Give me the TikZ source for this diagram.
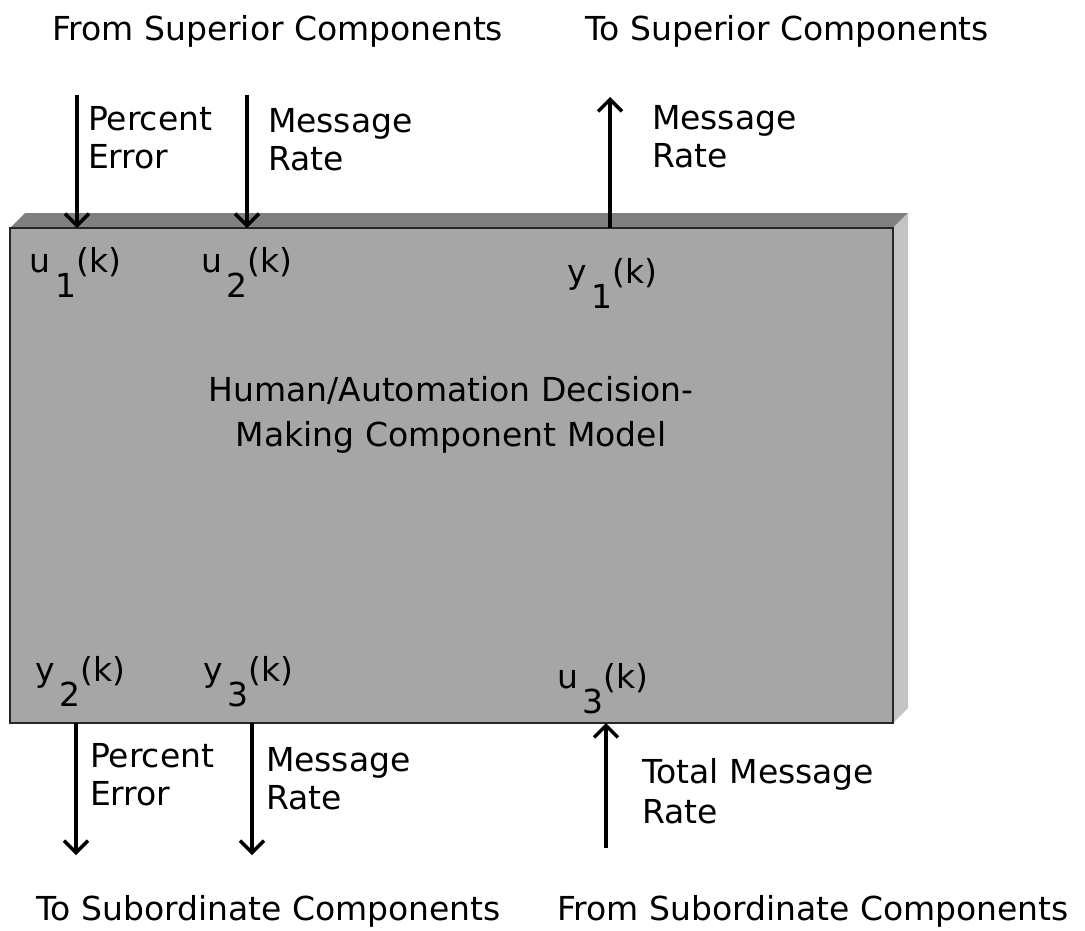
\documentclass[tikz,border=0pt]{standalone}
\usepackage{fontspec}
\setmainfont{DejaVu Sans}
\usetikzlibrary{arrows.meta,calc}
\definecolor{frontgray}{HTML}{A6A6A6}
\definecolor{topgray}{HTML}{808080}
\definecolor{sidegray}{HTML}{C4C4C4}
\newcommand{\sublbl}[2]{#1\kern5pt\raisebox{-25pt}{#2}(k)}
\begin{document}
\begin{tikzpicture}[x=1pt,y=-1pt,
  every node/.style={font=\fontsize{33}{38}\selectfont, inner sep=0pt, outer sep=0pt},
  txt/.style={anchor=base west},
  lbl/.style={anchor=north west, align=left},
  arr/.style={line width=3.5pt, -{Straight Barb[length=12pt,width=24pt,line width=3.5pt]}},
  boxstyle/.style={draw=black!85, line width=1.5pt, fill=frontgray, anchor=north west,
    minimum width=883pt, minimum height=495pt}]
\useasboundingbox (0,0) rectangle (1085,930);
% box
\node[boxstyle] (box) at (10,228) {};
\fill[topgray] (box.north west) -- ++(15,-15) -- ($(box.north east)+(15,-15)$) -- (box.north east) -- cycle;
\fill[sidegray] (box.north east) -- ++(15,-15) -- ($(box.south east)+(15,-15)$) -- (box.south east) -- cycle;
\draw[black!85, line width=1.5pt] (box.north west) rectangle (box.south east);
% headings
\node[txt] (fsup) at (52,40) {From Superior Components};
\node[txt] (tsup) at (585,40) {To Superior Components};
\node[txt] (tsub) at (36,920) {To Subordinate Components};
\node[txt] (fsub) at (557,920) {From Subordinate Components};
% center
\node[anchor=north, align=center, font=\fontsize{33}{45}\selectfont] (title) at (451,376) {Human/Automation Decision-\\Making Component Model};
% port labels
\node[txt] (u1) at (30,272) {\sublbl{u}{1}};
\node[txt] (u2) at (201,272) {\sublbl{u}{2}};
\node[txt] (y1) at (567,283) {\sublbl{y}{1}};
\node[txt] (y2) at (35,681) {\sublbl{y}{2}};
\node[txt] (y3) at (203,681) {\sublbl{y}{3}};
\node[txt] (u3) at (557,688) {\sublbl{u}{3}};
% signal labels
\node[lbl] (l1) at (88,106) {Percent\\Error};
\node[lbl] (l2) at (268,108) {Message\\Rate};
\node[lbl] (l3) at (652,105) {Message\\Rate};
\node[lbl] (l4) at (90,743) {Percent\\Error};
\node[lbl] (l5) at (266,747) {Message\\Rate};
\node[lbl, font=\fontsize{33}{40}\selectfont] (l6) at (642,758) {Total Message\\Rate};
% arrows
\coordinate (p1) at (77,95);
\coordinate (p2) at (247,95);
\coordinate (p3) at (610,97);
\coordinate (q1) at (76,855);
\coordinate (q2) at (252,855);
\coordinate (q3) at (606,848);
\draw[arr] (p1) -- (p1 |- box.north);
\draw[arr] (p2) -- (p2 |- box.north);
\draw[arr] (p3 |- box.north) -- (p3);
\draw[arr] (q1 |- box.south) -- (q1);
\draw[arr] (q2 |- box.south) -- (q2);
\draw[arr] (q3) -- (q3 |- box.south);
\end{tikzpicture}
\end{document}
